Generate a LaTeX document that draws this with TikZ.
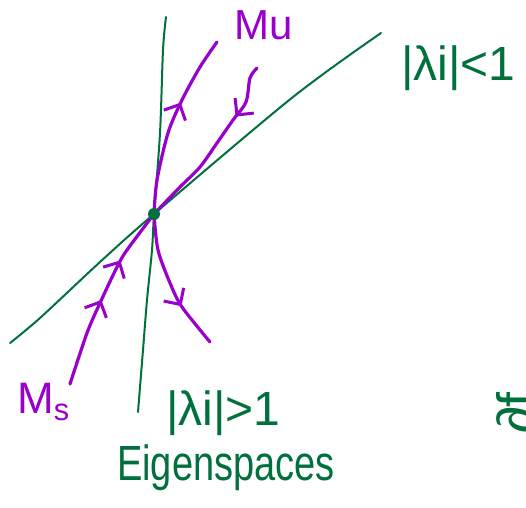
\documentclass[tikz,border=0pt]{standalone}
\usepackage{fontspec}
\newfontfamily\handfont{Liberation Sans}
\usetikzlibrary{arrows.meta,decorations.markings}
\definecolor{egreen}{RGB}{0,112,60}
\definecolor{mpurple}{RGB}{153,0,204}
\newcommand{\barb}{\arrow{Straight Barb[length=12pt,width=24pt,line width=3pt]}}
\tikzset{
  eigen/.style={egreen,line width=2pt,line cap=round},
  manif/.style={mpurple,line width=3.2pt,line cap=round,line join=round},
  hand/.style={inner sep=0pt,anchor=base west,font=\handfont\fontsize{#1}{#1}\selectfont}
}

\begin{document}
\begin{tikzpicture}[x=1pt,y=-1pt]
  \useasboundingbox (0,0) rectangle (526,507);
  \coordinate (P) at (154,214);
  %
  % eigenspaces
  \draw[eigen] plot[smooth] coordinates {(166,17) (163,50) (160,133) (P) (152,250) (147,300) (143,350) (138,412)};
  \draw[eigen] plot[smooth] coordinates {(381,33) (293,97) (P) (100,262) (40,318) (10,343)};
  %
  % invariant manifolds
  \draw[manif,postaction={decorate},decoration={markings,mark=at position .62 with {\barb}}]
    plot[smooth] coordinates {(P) (157,180) (168,133) (182,100) (200,67) (217,42)};
  \draw[manif,postaction={decorate},decoration={markings,mark=at position .3 with {\barb}}]
    plot[smooth] coordinates {(257,68) (250,78) (246,102) (233,120) (217,143) (200,167) (180,187) (P)};
  \draw[manif,postaction={decorate},decoration={markings,
      mark=at position .47 with {\barb},mark=at position .7 with {\barb}}]
    plot[smooth] coordinates {(70,384) (87,333) (100,303) (117,267) (127,250) (P)};
  \draw[manif,postaction={decorate},decoration={markings,mark=at position .68 with {\barb}}]
    plot[smooth] coordinates {(P) (158,250) (170,283) (182,307) (210,342)};
  %
  \fill[egreen] (P) circle (6pt);
  %
  % labels
  \node[hand=42,mpurple] (mu) at (234,39) {Mu};
  \node[hand=44,mpurple] (ms) at (17,413) {M\textsubscript{s}};
  \node[hand=48,egreen] (stab) at (401,80) {|λi|<1};
  \node[hand=48,egreen] (unst) at (166,425) {|λi|>1};
  \node[hand=38,egreen] (eig) at (117,480) {\scalebox{1}[1.3]{Eigenspaces}};
  \node[hand=54,egreen,rotate=90] (cut) at (535,434) {∂f};
\end{tikzpicture}
\end{document}
